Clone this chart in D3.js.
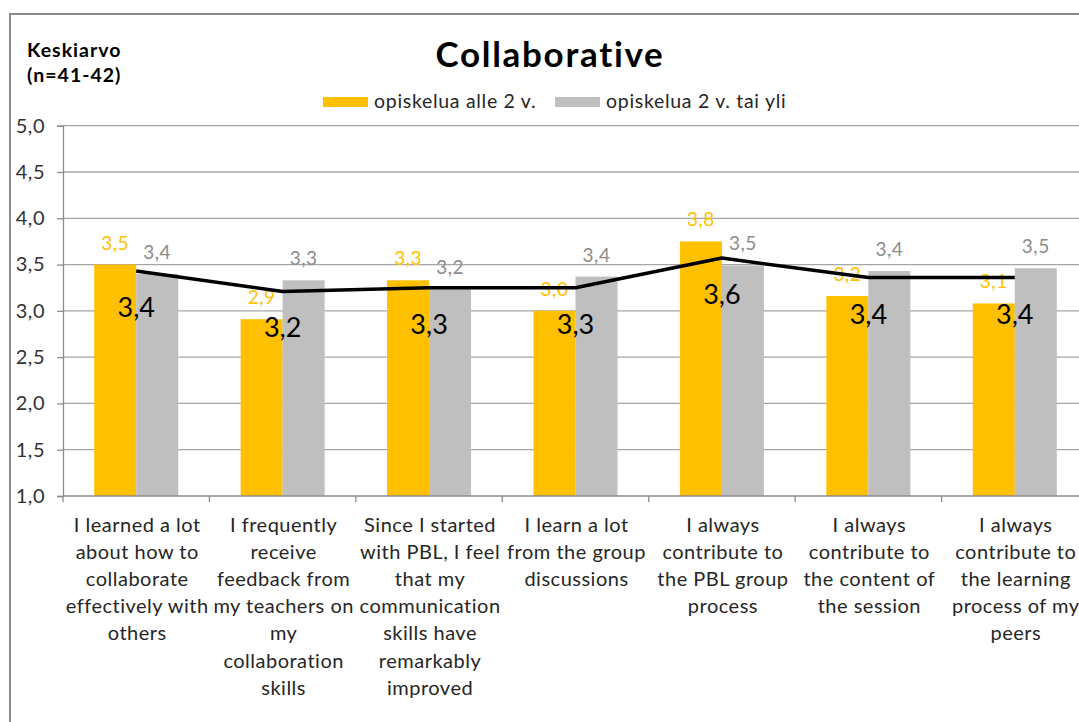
<!DOCTYPE html>
<html>
<head>
<meta charset="utf-8">
<script src="https://cdn.jsdelivr.net/npm/d3@7"></script>
<style>
  html, body { margin: 0; padding: 0; background: #fff; }
  svg { display: block; font-family: Lato, "Open Sans", sans-serif; }
</style>
</head>
<body>
<svg id="chart" width="1079" height="722"></svg>
<script>
// Survey statements (line breaks as shown under the axis)
const categories = [
  "I learned a lot\nabout how to\ncollaborate\neffectively with\nothers",
  "I frequently\nreceive\nfeedback from\nmy teachers on\nmy\ncollaboration\nskills",
  "Since I started\nwith PBL, I feel\nthat my\ncommunication\nskills have\nremarkably\nimproved",
  "I learn a lot\nfrom the group\ndiscussions",
  "I always\ncontribute to\nthe PBL group\nprocess",
  "I always\ncontribute to\nthe content of\nthe session",
  "I always\ncontribute to\nthe learning\nprocess of my\npeers"
];
const seriesNames = ["opiskelua alle 2 v.", "opiskelua 2 v. tai yli"];
const under2 = [3.50, 2.91, 3.33, 3.00, 3.75, 3.16, 3.08];
const over2  = [3.40, 3.33, 3.24, 3.37, 3.49, 3.43, 3.46];
const overall = [3.43, 3.21, 3.25, 3.25, 3.57, 3.36, 3.36];
const yTicks = [1.0, 1.5, 2.0, 2.5, 3.0, 3.5, 4.0, 4.5, 5.0];

const colors = ["#FFC000", "#BFBFBF"];
const labelColors = ["#FFC000", "#8C8C8C"];
const fmt = v => d3.format(".1f")(v).replace(".", ",");

const svg = d3.select("#chart");

// outer chart frame
svg.append("rect")
  .attr("x", 10).attr("y", 14)
  .attr("width", 1200).attr("height", 800)
  .attr("fill", "#fff").attr("stroke", "#8C8C8C").attr("stroke-width", 2);

const plot = { left: 63, right: 1088, top: 125.7, bottom: 496 };

const x = d3.scaleBand().domain(d3.range(categories.length))
  .range([plot.left, plot.right]).paddingInner(0).paddingOuter(0);
const barW = 42;
const xs = d3.scaleBand().domain([0, 1]).range([-barW, barW]);
const y = d3.scaleLinear().domain([1, 5]).range([plot.bottom, plot.top]);

// horizontal gridlines
svg.append("g").selectAll("line").data(yTicks.slice(1)).join("line")
  .attr("x1", plot.left).attr("x2", plot.right)
  .attr("y1", d => y(d)).attr("y2", d => y(d))
  .attr("stroke", "#A6A6A6").attr("stroke-width", 1.3);

// y axis
const yAxis = d3.axisLeft(y).tickValues(yTicks).tickSize(6).tickPadding(12).tickFormat(fmt);
const gy = svg.append("g").attr("transform", `translate(${plot.left},0)`).call(yAxis);
gy.select(".domain").attr("stroke", "#8C8C8C").attr("stroke-width", 1.3);
gy.selectAll(".tick line").attr("stroke", "#8C8C8C").attr("stroke-width", 1.3);
gy.selectAll(".tick text").attr("font-size", 20).attr("letter-spacing", 0.5)
  .attr("fill", "#333").attr("font-family", "Lato, sans-serif");

// bars
const seriesData = [under2, over2];
seriesData.forEach((vals, s) => {
  svg.append("g").selectAll("rect").data(vals).join("rect")
    .attr("x", (d, i) => x(i) + x.bandwidth() / 2 + xs(s))
    .attr("y", d => y(d))
    .attr("width", xs.bandwidth())
    .attr("height", d => y(1) - y(d))
    .attr("fill", colors[s]);
});

// x axis line with category tick marks
svg.append("line")
  .attr("x1", plot.left).attr("x2", plot.right)
  .attr("y1", plot.bottom).attr("y2", plot.bottom)
  .attr("stroke", "#8C8C8C").attr("stroke-width", 1.3);
svg.append("g").selectAll("line").data(d3.range(categories.length + 1)).join("line")
  .attr("x1", i => plot.left + i * x.step()).attr("x2", i => plot.left + i * x.step())
  .attr("y1", plot.bottom).attr("y2", plot.bottom + 6)
  .attr("stroke", "#8C8C8C").attr("stroke-width", 1.3);

// category labels
const xl = svg.append("g");
categories.forEach((c, i) => {
  const cx = x(i) + x.bandwidth() / 2 + 1;
  const t = xl.append("text")
    .attr("x", cx)
    .attr("y", 531.5)
    .attr("text-anchor", "middle")
    .attr("font-size", 20).attr("letter-spacing", 0.5).attr("fill", "#262626");
  c.split("\n").forEach((ln, k) => {
    t.append("tspan").attr("x", cx)
      .attr("dy", k === 0 ? 0 : 27.2).text(ln);
  });
});

// bar value labels
seriesData.forEach((vals, s) => {
  svg.append("g").selectAll("text").data(vals).join("text")
    .attr("x", (d, i) => x(i) + x.bandwidth() / 2 + xs(s) + xs.bandwidth() / 2)
    .attr("y", d => y(d) - 15)
    .attr("text-anchor", "middle")
    .attr("font-size", 19).attr("letter-spacing", 0.5).attr("fill", labelColors[s])
    .text(fmt);
});

// overall average line
const line = d3.line()
  .x((d, i) => x(i) + x.bandwidth() / 2)
  .y(d => y(d));
svg.append("path").datum(overall)
  .attr("d", line).attr("fill", "none")
  .attr("stroke", "#000").attr("stroke-width", 3.5)
  .attr("stroke-linejoin", "round");

svg.append("g").selectAll("text").data(overall).join("text")
  .attr("x", (d, i) => x(i) + x.bandwidth() / 2)
  .attr("y", d => y(d) + 46)
  .attr("text-anchor", "middle")
  .attr("font-size", 27).attr("fill", "#000")
  .text(fmt);

// title
svg.append("text").attr("x", 550).attr("y", 66.5)
  .attr("text-anchor", "middle").attr("font-weight", "bold")
  .attr("font-size", 35).attr("letter-spacing", 1.7).attr("fill", "#000").text("Collaborative");

// axis caption
svg.append("text").attr("x", 27).attr("y", 56.5)
  .attr("font-weight", "bold").attr("font-size", 19.5).attr("letter-spacing", 1)
  .attr("fill", "#000").text("Keskiarvo");
svg.append("text").attr("x", 27).attr("y", 81.5)
  .attr("font-weight", "bold").attr("font-size", 19.5).attr("letter-spacing", 1)
  .attr("fill", "#000").text("(n=41-42)");

// legend
const legendX = [323, 555];
seriesNames.forEach((name, s) => {
  svg.append("rect").attr("x", legendX[s]).attr("y", 97)
    .attr("width", 45).attr("height", 10).attr("fill", colors[s]);
  svg.append("text").attr("x", legendX[s] + 51).attr("y", 107.5)
    .attr("font-size", 19.5).attr("letter-spacing", 0.7).attr("fill", "#262626").text(name);
});
</script>
</body>
</html>
